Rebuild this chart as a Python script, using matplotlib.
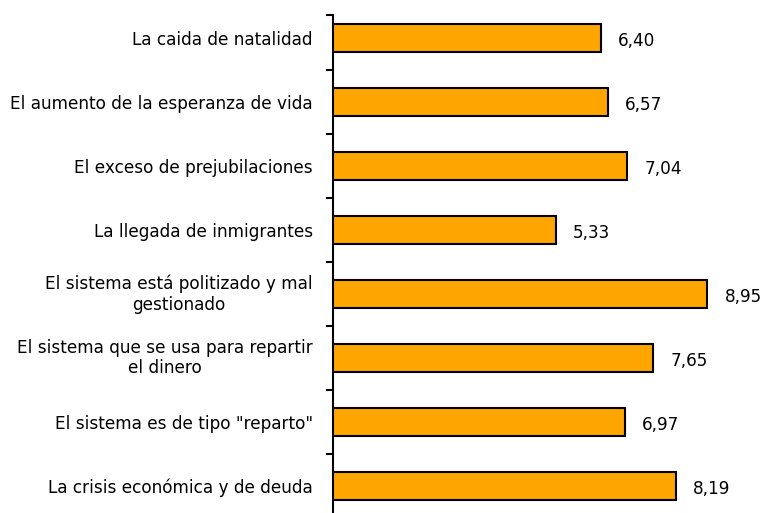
import matplotlib
matplotlib.use("Agg")
import matplotlib.pyplot as plt

categories = [
    "La caida de natalidad",
    "El aumento de la esperanza de vida",
    "El exceso de prejubilaciones",
    "La llegada de inmigrantes",
    "El sistema está politizado y mal\ngestionado",
    "El sistema que se usa para repartir\nel dinero",
    "El sistema es de tipo \"reparto\"",
    "La crisis económica y de deuda",
]
values = [6.40, 6.57, 7.04, 5.33, 8.95, 7.65, 6.97, 8.19]
value_labels = ["6,40", "6,57", "7,04", "5,33", "8,95", "7,65", "6,97", "8,19"]

plt.rcParams["font.family"] = ["DejaVu Sans"]

fig = plt.figure(figsize=(7.68, 5.13), dpi=100)
W, H = 768, 513
# axes spans from the vertical axis line to the right edge; bottom runs below the figure
top_px, bottom_px = 15, 518
ax = fig.add_axes([333 / W, 1 - bottom_px / H, 1 - 333 / W, (bottom_px - top_px) / H])

pos = list(range(len(categories)))
ax.barh(pos, values, height=0.44, color="#FFA500", edgecolor="black", linewidth=1.5, zorder=3)

ax.set_xlim(0, 10.4)
ax.set_ylim(7.5, -0.36)

for p, v, lab in zip(pos, values, value_labels):
    ax.text(v + 0.41, p + 0.04, lab, va="center", ha="left", fontsize=12.2, color="black")

# category labels, right aligned just left of the axis line
for p, c in zip(pos, categories):
    dy = 0.03 if "\n" not in c else 0.0
    ax.text(-0.48, p + dy, c, va="center", ha="right", multialignment="center",
            fontsize=12.2, color="black", linespacing=1.2)

ax.set_xticks([])
ax.set_yticks([-0.36] + [i + 0.5 for i in range(len(categories))])
ax.set_yticklabels([])
ax.tick_params(axis="y", direction="out", length=5, width=1.5, color="black")
for s in ["top", "right", "bottom"]:
    ax.spines[s].set_visible(False)
ax.spines["left"].set_linewidth(1.5)
ax.patch.set_alpha(0)

fig.savefig("out.png", dpi=100)
